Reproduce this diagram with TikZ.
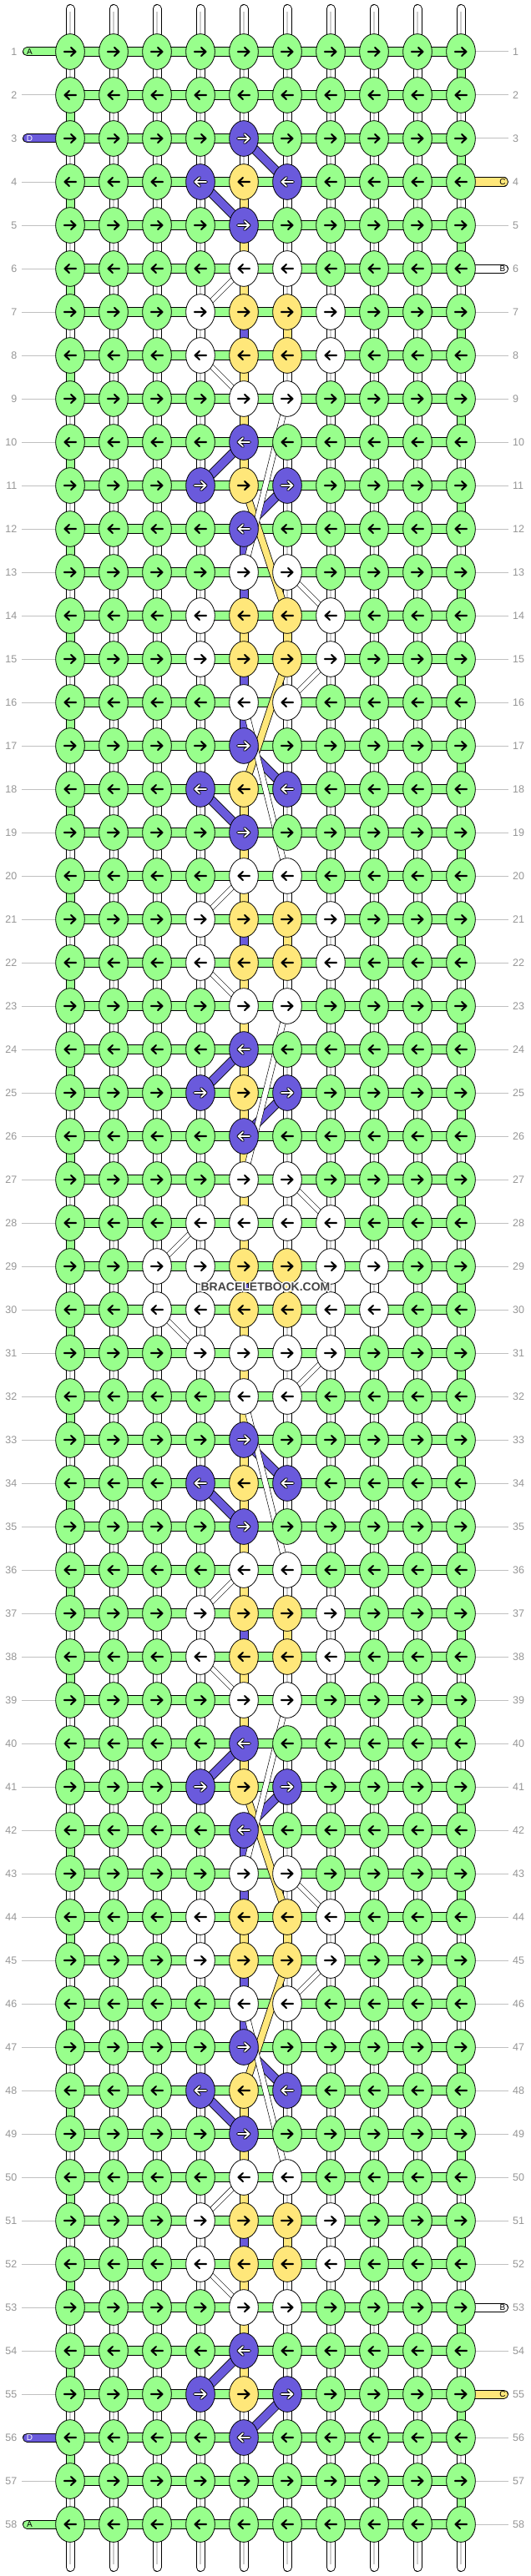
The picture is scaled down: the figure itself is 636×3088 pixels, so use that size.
\documentclass[tikz,border=0pt]{standalone}
\usepackage{fontspec}
\setmainfont{Liberation Sans}
\usetikzlibrary{shapes.geometric}
\definecolor{kgreen}{RGB}{152,255,140}
\definecolor{kpurple}{RGB}{106,90,220}
\definecolor{kyellow}{RGB}{255,231,122}
\definecolor{kwhite}{RGB}{255,255,255}
\definecolor{lblgray}{RGB}{150,150,150}
\definecolor{linegray}{RGB}{192,192,192}
\definecolor{midgray}{RGB}{205,205,205}
\definecolor{wmgray}{RGB}{68,68,68}
\newcommand\setknot[3]{\expandafter\xdef\csname kc-#1-#2\endcsname{#3}}
\newcommand\setvseg[3]{\expandafter\xdef\csname vs-#1-#2\endcsname{#3}}
\def\Wname{kwhite}
\def\Nname{none}
\def\Pname{kpurple}
\tikzset{
  knot/.style={ellipse, draw=black, line width=0.8pt, minimum width=34.7pt, minimum height=42.7pt, inner sep=0pt},
  strand/.style={double=#1, double distance=9pt, line width=1pt},
  hstrand/.style={double=kgreen, double distance=10pt, line width=1pt},
  pband/.style={double=kpurple, double distance=9.5pt, line width=0.8pt},
  yband/.style={double=kyellow, double distance=7.5pt, line width=0.8pt},
  wband/.style={double=white, double distance=5pt, line width=0.6pt},
  lwband/.style={double=white, double distance=6pt, line width=0.6pt},
  core/.style={draw=midgray, line width=1.6pt},
  guide/.style={draw=linegray, line width=1pt},
  rownum/.style={text=lblgray, font=\fontsize{12.5}{12.5}\selectfont, inner sep=0pt},
  stubtext/.style={font=\fontsize{10}{10}\selectfont, inner sep=0pt},
  arrowline/.style={line width=2.1pt, line cap=round, line join=round},
  wm/.style={font=\bfseries\fontsize{14}{14}\selectfont, inner sep=0pt},
}
\begin{document}
\begin{tikzpicture}[x=1pt,y=-1pt]
\useasboundingbox (0,0) rectangle (636,3088);
\fill[white] (0,0) rectangle (636,3088);
% ---------- knot colours ----------
\foreach \a in {3,10,17,24,33,40,47,54}{
  \pgfmathtruncatemacro\aa{\a+1}\pgfmathtruncatemacro\ab{\a+2}
  \setknot{\a}{5}{kpurple}\setknot{\aa}{4}{kpurple}\setknot{\aa}{5}{kyellow}\setknot{\aa}{6}{kpurple}\setknot{\ab}{5}{kpurple}}
\foreach \b in {6,13,20,36,43,50}{
  \pgfmathtruncatemacro\ba{\b+1}\pgfmathtruncatemacro\bb{\b+2}\pgfmathtruncatemacro\bc{\b+3}
  \setknot{\b}{5}{kwhite}\setknot{\b}{6}{kwhite}
  \foreach \rr in {\ba,\bb}{\setknot{\rr}{4}{kwhite}\setknot{\rr}{5}{kyellow}\setknot{\rr}{6}{kyellow}\setknot{\rr}{7}{kwhite}}
  \setknot{\bc}{5}{kwhite}\setknot{\bc}{6}{kwhite}}
\foreach \c in {5,6}{\setknot{27}{\c}{kwhite}\setknot{32}{\c}{kwhite}}
\foreach \c in {4,5,6,7}{\setknot{28}{\c}{kwhite}\setknot{31}{\c}{kwhite}}
\foreach \c/\k in {3/kwhite,4/kwhite,5/kyellow,6/kyellow,7/kwhite,8/kwhite}{\setknot{29}{\c}{\k}\setknot{30}{\c}{\k}}
% ---------- vertical segment types ----------
\foreach \g in {2,4,...,56}{\setvseg{1}{\g}{kgreen}}
\foreach \g in {1,3,...,57}{\setvseg{10}{\g}{kgreen}}
\foreach \g in {4,5,6,8,9,10,14,18,19,20,22,23,24,25,26,27,28,30,31,32,33,34,35,36,38,39,40,44,48,49,50,52,53,54}{\setvseg{5}{\g}{kyellow}}
\foreach \g in {7,12,13,15,16,21,29,37,42,43,45,46,51}{\setvseg{5}{\g}{kpurple}}
\foreach \g in {11,17,41,47}{\setvseg{5}{\g}{none}}
\foreach \g in {7,14,21,29,37,44,51}{\setvseg{6}{\g}{kyellow}}
\foreach \g in {9,19,23,35,39,49}{\setvseg{6}{\g}{none}}
% ---------- grid coordinates ----------
\foreach \r in {1,...,58}{\foreach \c in {1,...,10}{
  \coordinate (p-\r-\c) at ({84+52*(\c-1)},{62+52*(\r-1)});}}
% ---------- string ends ----------
\foreach \c in {1,...,10}{
  \coordinate (top-\c) at ({84+52*(\c-1)},10.5);
  \coordinate (topc-\c) at ({84+52*(\c-1)},14);
  \coordinate (bot-\c) at ({84+52*(\c-1)},3077.5);
  \coordinate (botc-\c) at ({84+52*(\c-1)},3074);
  \draw[strand=kwhite, line cap=round] (top-\c) -- (p-1-\c);
  \draw[core] (topc-\c) -- (p-1-\c);
  \draw[strand=kwhite, line cap=round] (p-58-\c) -- (bot-\c);
  \draw[core] (p-58-\c) -- (botc-\c);
}
% ---------- vertical segments ----------
\foreach \c in {1,...,10}{\foreach \g in {1,...,57}{
  \pgfmathtruncatemacro\gn{\g+1}
  \edef\vt{\ifcsname vs-\c-\g\endcsname\csname vs-\c-\g\endcsname\else kwhite\fi}
  \ifx\vt\Nname\else
    \draw[strand=\vt] (p-\g-\c) -- (p-\gn-\c);
    \ifx\vt\Wname \draw[core] (p-\g-\c) -- (p-\gn-\c);\fi
  \fi
}}
% ---------- horizontal segments ----------
\foreach \r in {1,...,58}{\foreach \c in {1,...,9}{
  \pgfmathtruncatemacro\cn{\c+1}
  \draw[hstrand] (p-\r-\c) -- (p-\r-\cn);}}
% ---------- row numbers, guides, stubs ----------
\foreach \r in {1,3,56,58}{\expandafter\xdef\csname lstub-\r\endcsname{1}}
\foreach \r in {4,6,53,55}{\expandafter\xdef\csname rstub-\r\endcsname{1}}
\foreach \r in {1,...,58}{
  \coordinate (ll-\r) at (26,{62+52*(\r-1)});
  \coordinate (rl-\r) at (609,{62+52*(\r-1)});
  \node[rownum, anchor=east] (ln-\r) at (20.5,{62+52*(\r-1)}) {\r};
  \node[rownum, anchor=west] (rn-\r) at (614,{62+52*(\r-1)}) {\r};
  \ifcsname lstub-\r\endcsname\else\draw[guide] (ll-\r) -- (p-\r-1);\fi
  \ifcsname rstub-\r\endcsname\else\draw[guide] (p-\r-10) -- (rl-\r);\fi
}
\foreach \r/\col/\txt/\tc in {1/kgreen/A/black, 3/kpurple/D/white, 56/kpurple/D/white, 58/kgreen/A/black}{
  \coordinate (ls-\r) at (32.5,{62+52*(\r-1)});
  \draw[strand=\col, line cap=round] (ls-\r) -- (p-\r-1);
  \node[stubtext, text=\tc] (lt-\r) at (35.5,{62+52*(\r-1)}) {\txt};
}
\foreach \r/\col/\txt in {4/kyellow/C, 6/kwhite/B, 53/kwhite/B, 55/kyellow/C}{
  \coordinate (rs-\r) at (603.5,{62+52*(\r-1)});
  \draw[strand=\col, line cap=round] (p-\r-10) -- (rs-\r);
  \node[stubtext] (rt-\r) at (602,{62+52*(\r-1)}) {\txt};
}
% ---------- diagonal strands ----------
\foreach \a/\b in {3-5/4-6, 4-4/5-5, 10-5/11-4, 11-6/12-5, 17-5/18-6, 18-4/19-5, 24-5/25-4, 25-6/26-5, 33-5/34-6, 34-4/35-5, 40-5/41-4, 41-6/42-5, 47-5/48-6, 48-4/49-5, 54-5/55-4, 55-6/56-5}
  {\draw[pband] (p-\a) -- (p-\b);}
\foreach \a/\b in {11-5/14-6, 15-6/18-5, 41-5/44-6, 45-6/48-5}
  {\draw[yband] (p-\a) -- (p-\b);}
\foreach \a/\b in {9-6/13-5, 16-5/20-6, 23-6/27-5, 32-5/36-6, 39-6/43-5, 46-5/50-6}
  {\draw[lwband] (p-\a) -- (p-\b);}
\foreach \a/\b in {6-5/7-4, 8-4/9-5, 13-6/14-7, 15-7/16-6, 20-5/21-4, 22-4/23-5, 27-6/28-7, 28-4/29-3, 30-3/31-4, 31-7/32-6, 36-5/37-4, 38-4/39-5, 43-6/44-7, 45-7/46-6, 50-5/51-4, 52-4/53-5}
  {\draw[wband] (p-\a) -- (p-\b);}
% ---------- knots and arrows ----------
\foreach \r in {1,...,58}{\foreach \c in {1,...,10}{
  \edef\kcol{\ifcsname kc-\r-\c\endcsname\csname kc-\r-\c\endcsname\else kgreen\fi}
  \node[knot, fill=\kcol] (k-\r-\c) at (p-\r-\c) {};
  \ifodd\r \def\dir{1}\else\def\dir{-1}\fi
  \begin{scope}[shift={(p-\r-\c)}, xscale=\dir]
    \ifx\kcol\Pname
      \draw[arrowline, black, line width=3.8pt] (-7,0)--(6,0) (1,-5)--(6.5,0)--(1,5);
      \draw[arrowline, white, line width=1.8pt] (-7,0)--(6,0) (1,-5)--(6.5,0)--(1,5);
    \else
      \draw[arrowline, black] (-7,0)--(6,0) (1,-5)--(6.5,0)--(1,5);
    \fi
  \end{scope}
}}
% ---------- watermark ----------
\foreach \dx/\dy [count=\i] in {-1/-1,0/-1,1/-1,-1/0,1/0,-1/1,0/1,1/1,-1.5/0,1.5/0,0/-1.5,0/1.5}
  {\node[wm, text=white] (wmh-\i) at ({318+\dx},{1543+\dy}) {BRACELETBOOK.COM};}
\node[wm, text=wmgray] (wm) at (318,1543) {BRACELETBOOK.COM};
\end{tikzpicture}
\end{document}
